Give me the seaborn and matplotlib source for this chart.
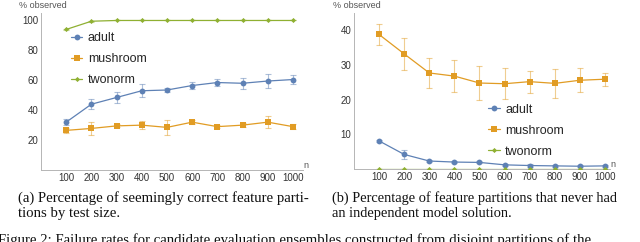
import numpy as np
import matplotlib
matplotlib.use("Agg")
import matplotlib.pyplot as plt
import seaborn as sns
import pandas as pd
from matplotlib.ticker import MultipleLocator

sns.set_style("white")
plt.rcParams['font.family'] = ['Liberation Sans', 'DejaVu Sans']

# test sizes
n_values = [100, 200, 300, 400, 500, 600, 700, 800, 900, 1000]
datasets = ["adult", "mushroom", "twonorm"]

# (a) seemingly correct feature partitions (%)
a_adult = [32, 44, 48.5, 53, 53.5, 56.5, 58.5, 58, 59.5, 60.5]
a_adult_err = [2, 3.5, 3.5, 4.5, 1.5, 2.5, 2.5, 3.5, 4.5, 3]
a_mushroom = [26.5, 27.8, 29.5, 30, 28.5, 32, 29, 30, 32, 29]
a_mushroom_err = [1.5, 4.5, 1, 2.5, 5, 1.5, 1, 1.5, 4, 1.5]
a_twonorm = [94, 99.5, 100, 100, 100, 100, 100, 100, 100, 100]
a_twonorm_err = [0.5, 0.3, 0, 0, 0, 0, 0, 0, 0, 0]

# (b) feature partitions never having an independent model solution (%)
b_adult = [8.1, 4.2, 2.3, 2.0, 1.9, 1.2, 1.0, 0.9, 0.8, 0.9]
b_adult_err = [0.3, 1.2, 0.3, 0.3, 0.3, 0.3, 0.3, 0.3, 0.3, 0.3]
b_mushroom = [38.8, 33.2, 27.7, 26.8, 24.8, 24.6, 25.2, 24.7, 25.6, 25.9]
b_mushroom_err = [3.0, 4.7, 4.2, 4.7, 5.0, 4.4, 3.2, 4.1, 3.4, 1.9]
b_twonorm = [0, 0, 0, 0, 0, 0, 0, 0, 0, 0]
b_twonorm_err = [0, 0, 0, 0, 0, 0, 0, 0, 0, 0]

colors = {"adult": "#5E81B5", "mushroom": "#E19C24", "twonorm": "#8FB032"}
markers = {"adult": "o", "mushroom": "s", "twonorm": "D"}
msizes = {"adult": 4.2, "mushroom": 4.8, "twonorm": 2.6}


def make_df(adult, adult_err, mush, mush_err, two, two_err):
    rows = []
    for name, vals, errs in [("adult", adult, adult_err),
                             ("mushroom", mush, mush_err),
                             ("twonorm", two, two_err)]:
        for n, v, e in zip(n_values, vals, errs):
            rows.append({"n": n, "pct": v, "err": e, "dataset": name})
    return pd.DataFrame(rows)


df_a = make_df(a_adult, a_adult_err, a_mushroom, a_mushroom_err, a_twonorm, a_twonorm_err)
df_b = make_df(b_adult, b_adult_err, b_mushroom, b_mushroom_err, b_twonorm, b_twonorm_err)

fig = plt.figure(figsize=(6.4, 2.42), dpi=100)
ax1 = fig.add_axes([41 / 640, 1 - 170 / 242, 262 / 640, 157 / 242])
ax2 = fig.add_axes([354 / 640, 1 - 169 / 242, 256 / 640, 156 / 242])

axis_col = "#b5b5b5"
tick_col = "#333333"


def draw_panel(ax, df, xmax, ymax, major, minor, legend_anchor, label_x):
    for name in datasets:
        sub = df[df["dataset"] == name]
        ax.errorbar(sub["n"], sub["pct"], yerr=sub["err"], fmt="none",
                    ecolor=colors[name], elinewidth=0.8, capsize=2,
                    capthick=0.8, alpha=0.5, zorder=2)
        sns.lineplot(data=sub, x="n", y="pct", color=colors[name],
                     marker=markers[name], markersize=msizes[name],
                     markeredgewidth=0, linewidth=0.9, label=name, ax=ax,
                     zorder=3)
    ax.set_xlim(0, xmax)
    ax.set_ylim(0, ymax)
    ax.set_xticks(n_values)
    ax.yaxis.set_major_locator(MultipleLocator(major))
    ax.yaxis.set_minor_locator(MultipleLocator(minor))
    ax.tick_params(axis="both", which="major", labelsize=7, colors=axis_col,
                   labelcolor=tick_col, length=3, width=0.6, direction="in", pad=2)
    ax.tick_params(axis="y", which="minor", length=1.8, width=0.5,
                   colors=axis_col, direction="in")
    ax.set_xlabel("")
    ax.set_ylabel("")
    for s in ["top", "right"]:
        ax.spines[s].set_visible(False)
    for s in ["left", "bottom"]:
        ax.spines[s].set_color(axis_col)
        ax.spines[s].set_linewidth(0.7)
    ax.set_facecolor("none")
    fig.text(label_x / 640, 1 - 1 / 242, "% observed", fontsize=6.5,
             color="#555555", ha="left", va="top")
    ax.text(1.0, 0.0, "n", transform=ax.transAxes, fontsize=6.5,
            color="#555555", ha="left", va="bottom")
    ax.legend(loc="upper left", bbox_to_anchor=legend_anchor,
              frameon=False, fontsize=9, handlelength=0.9, handletextpad=0.45,
              labelspacing=0.72, borderaxespad=0)


draw_panel(ax1, df_a, 1040, 105, 20, 5, (0.095, 0.91), 19)
ax1.set_yticks([20, 40, 60, 80, 100])
draw_panel(ax2, df_b, 1020, 45, 10, 2, (0.505, 0.45), 333)
ax2.set_yticks([10, 20, 30, 40])

# captions
cap = dict(family=["Liberation Serif", "DejaVu Serif"], fontsize=10.6, color="#111111",
           ha="left", va="center")
fig.text(18 / 640, 1 - 198 / 242, "(a) Percentage of seemingly correct feature parti-",
         **cap)
fig.text(18 / 640, 1 - 213 / 242, "tions by test size.", **cap)
cap_b = dict(cap, fontsize=10.35)
fig.text(332 / 640, 1 - 198 / 242, "(b) Percentage of feature partitions that never had",
         **cap_b)
fig.text(332 / 640, 1 - 213 / 242, "an independent model solution.", **cap_b)
fig.text(-2 / 640, 1 - 240 / 242,
         "Figure 2: Failure rates for candidate evaluation ensembles constructed from disjoint partitions of the",
         **cap)

fig.savefig("out.png", dpi=100)
